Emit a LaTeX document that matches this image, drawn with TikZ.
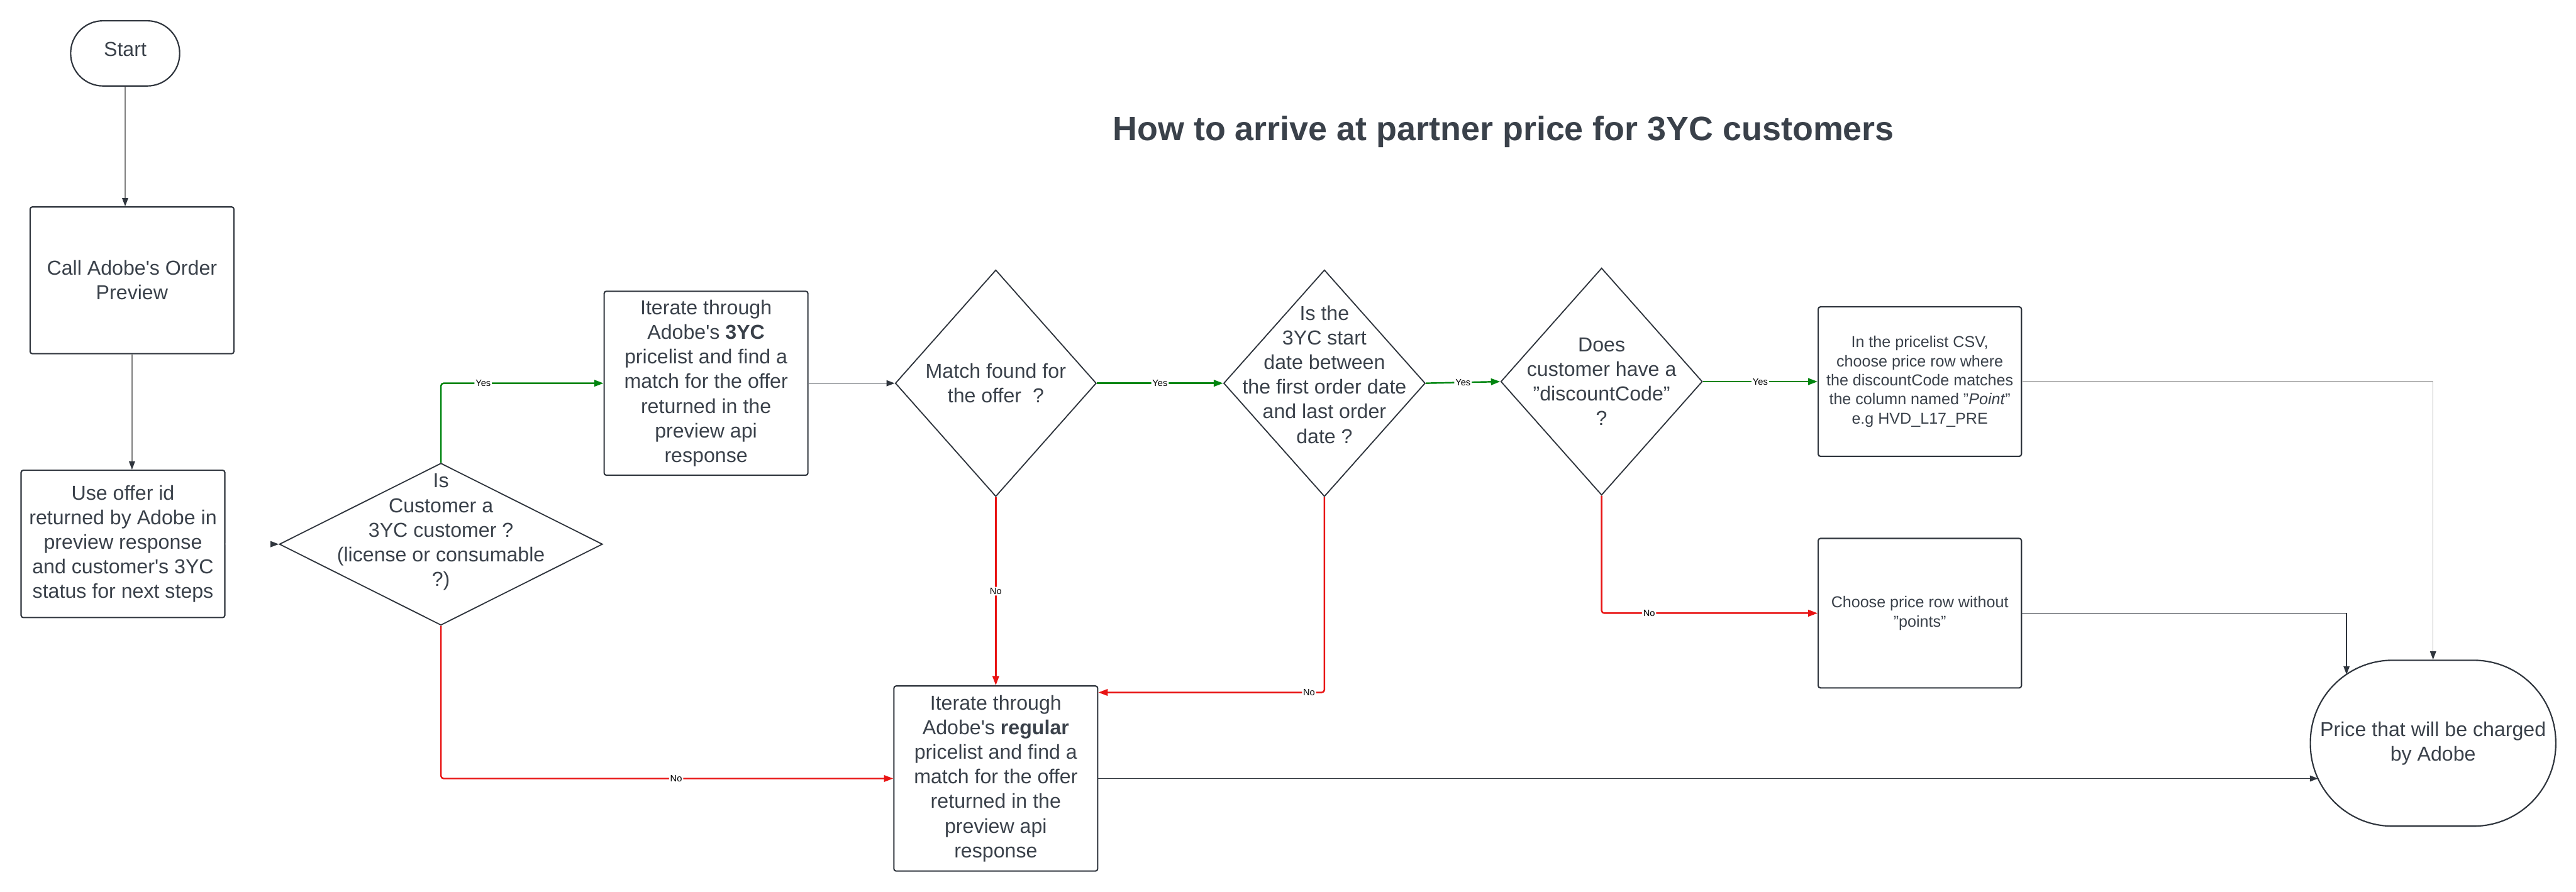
\documentclass[tikz,border=0pt]{standalone}
\usepackage{fontspec}
\setmainfont{Liberation Sans}
\usetikzlibrary{shapes.geometric,arrows.meta}
\definecolor{txt}{HTML}{3A414A}
\definecolor{bd}{HTML}{2F353D}
\definecolor{yesgreen}{HTML}{00850F}
\definecolor{nored}{HTML}{E81313}
\definecolor{lgray}{HTML}{B4B4B4}
\newcommand{\boxfont}{\fontsize{10.5}{12.8}\selectfont}
\newcommand{\smallboxfont}{\fontsize{8.2}{9.9}\selectfont}
\newcommand{\lblfont}{\fontsize{4.8}{5.5}\selectfont}
\newcommand{\aps}{\textquotesingle}

\begin{document}
\begin{tikzpicture}[
  term/.style={draw=bd, line width=0.7pt, rectangle, text=txt, font=\boxfont, align=center},
  box/.style={draw=bd, line width=0.7pt, rounded corners=0.04cm, minimum width=3.72cm, text=txt, font=\boxfont, align=center, inner sep=2pt},
  decision/.style={draw=bd, line width=0.6pt, diamond, inner sep=0pt},
  dtext/.style={text=txt, font=\boxfont, align=center},
  lbl/.style={fill=white, text=black, font=\lblfont, inner sep=0.6pt},
  arr/.style={draw=bd, line width=0.45pt, -{Triangle[length=0.15cm, width=0.11cm, color=bd]}},
  yes/.style={draw=yesgreen, line width=0.8pt, rounded corners=0.05cm, -{Triangle[length=0.17cm, width=0.12cm]}},
  no/.style={draw=nored, line width=0.8pt, rounded corners=0.05cm, -{Triangle[length=0.17cm, width=0.12cm]}}]
  \useasboundingbox (0,0) rectangle (47.03,-16.29);

  \node[font=\fontsize{17.6}{20}\selectfont\bfseries, text=txt] (title) at (27.45,-2.41) {How to arrive at partner price for 3YC customers};

  \node[term, minimum width=1.99cm, minimum height=1.19cm, rounded corners=0.59cm,
    label={[dtext, yshift=0.075cm]center:Start}] (start) at (2.285,-0.975) {};
  \node[box, minimum height=2.68cm] (call) at (2.41,-5.12) {Call Adobe\aps s Order\\Preview};
  \node[box, minimum height=2.69cm] (use) at (2.245,-9.935) {Use offer id\\returned by Adobe in\\preview response\\and customer\aps s 3YC\\status for next steps};
  \node[decision, minimum width=5.9cm, minimum height=2.96cm,
    label={[dtext, yshift=0.22cm]center:Is\\Customer a\\3YC customer ?\\(license or consumable\\?)}] (c3yc) at (8.05,-9.94) {};
  \node[box, minimum height=3.36cm] (it3yc) at (12.89,-7.0) {Iterate through\\Adobe\aps s \textbf{3YC}\\pricelist and find a\\match for the offer\\returned in the\\preview api\\response};
  \node[decision, minimum width=3.67cm, minimum height=4.14cm,
    label={[dtext]center:Match found for\\the offer\ \ ?}] (match) at (18.18,-7.0) {};
  \node[decision, minimum width=3.68cm, minimum height=4.14cm,
    label={[dtext, yshift=0.16cm]center:Is the\\3YC start\\date between\\the first order date\\and last order\\date ?}] (date) at (24.18,-7.0) {};
  \node[decision, minimum width=3.68cm, minimum height=4.15cm,
    label={[dtext]center:Does\\customer have a\\"discountCode"\\?}] (disc) at (29.24,-6.97) {};
  \node[box, font=\smallboxfont, minimum width=3.71cm, minimum height=2.73cm] (csv) at (35.05,-6.97) {In the pricelist CSV,\\choose price row where\\the discountCode matches\\the column named "\textit{Point}"\\e.g HVD\_L17\_PRE};
  \node[box, font=\smallboxfont, minimum width=3.71cm, minimum height=2.73cm] (pts) at (35.05,-11.2) {Choose price row without\\"points"};
  \node[box, minimum height=3.38cm] (regular) at (18.18,-14.22) {Iterate through\\Adobe\aps s \textbf{regular}\\pricelist and find a\\match for the offer\\returned in the\\preview api\\response};
  \node[term, minimum width=4.48cm, minimum height=3.03cm, rounded corners=1.5cm] (final) at (44.42,-13.575) {Price that will be charged\\by Adobe};

  \coordinate (finA) at (42.84,-12.32);
  \coordinate (finB) at (42.32,-14.22);

  \draw[arr, draw=gray] (start.south) -- (start.south |- call.north);
  \draw[arr, draw=gray] (call.south) -- (call.south |- use.north);
  \draw[arr, draw=white] (use.east) -- (c3yc.west);
  \draw[yes] (c3yc.north) |- node[lbl, pos=0.63]{Yes} (it3yc.west);
  \draw[arr] (it3yc.east) -- (match.west);
  \foreach \a/\b in {match/date, date/disc, disc/csv}
    \draw[yes] (\a.east) -- node[lbl]{Yes} (\b.west);
  \draw[no] (match.south) -- node[lbl]{No} (regular.north);
  \draw[no] (date.south) |- node[lbl, pos=0.534]{No} ([yshift=-0.13cm]regular.north east);
  \draw[no] (c3yc.south) |- node[lbl, pos=0.76]{No} (regular.west);
  \draw[no] (disc.south) |- node[lbl, pos=0.61]{No} (pts.west);
  \draw[arr, draw=lgray] (csv.east) -| (final.north);
  \draw[arr] (pts.east) -| (finA);
  \draw[arr] (regular.east) -- (finB);
\end{tikzpicture}
\end{document}
